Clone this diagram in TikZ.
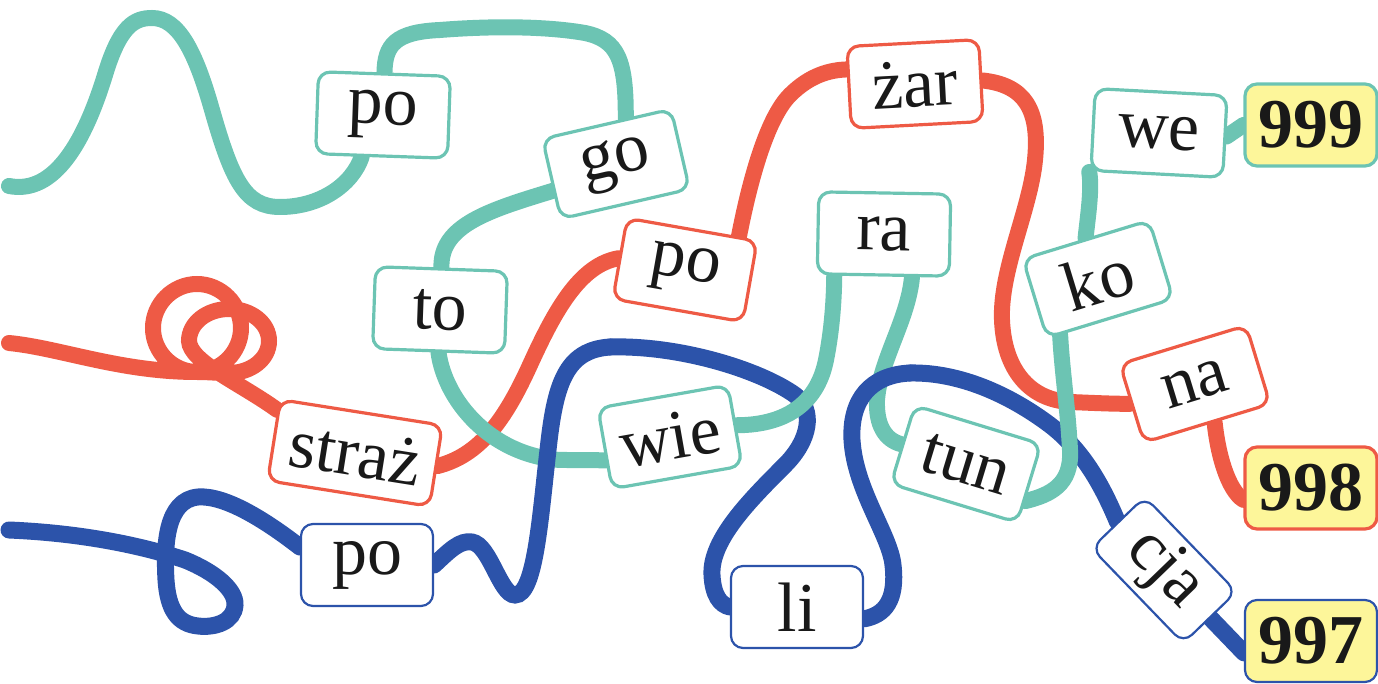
\documentclass[tikz,border=0pt]{standalone}
\usepackage{fontspec}
\setmainfont{Liberation Serif}
\usetikzlibrary{backgrounds}
\definecolor{cteal}{HTML}{6CC4B3}
\definecolor{cred}{HTML}{EE5A45}
\definecolor{cblue}{HTML}{2C53AA}
\definecolor{cyellow}{HTML}{FDF69A}

\begin{document}
\begin{tikzpicture}[
  x=0.5pt, y=-0.5pt,
  box/.style={line width=1.6pt, rounded corners=6pt, align=center, inner sep=0pt,
              minimum width=66pt, minimum height=41pt, fill=white, text=black!90,
              font=\fontsize{35}{40}\selectfont},
  tbox/.style={box, draw=cteal},
  rbox/.style={box, draw=cred},
  bbox/.style={box, draw=cblue, line width=1.1pt},
  num/.style={fill=cyellow, font=\fontsize{35}{40}\selectfont\bfseries},
  wire/.style={line width=8pt, line cap=round},
  twire/.style={wire, color=cteal},
  rwire/.style={wire, color=cred},
  bwire/.style={wire, color=cblue, line width=8.5pt}
]
\useasboundingbox (0,0) rectangle (1378,684);

\node[tbox, rotate=-2] (po1) at (383,115) {po};
\node[tbox, rotate=13] (go) at (616,164) {go};
\node[tbox, rotate=-2] (tto) at (440,310) {to};
\node[tbox, rotate=10] (wie) at (670,437) {wie};
\node[tbox, rotate=-1] (ra) at (884,234) {ra};
\node[tbox, rotate=-17] (tun) at (966,464) {tun};
\node[tbox, rotate=17] (ko) at (1098,279) {ko};
\node[tbox, rotate=-3] (we) at (1159,133) {we};
\node[tbox, num] (n999) at (1311,125) {999};

\node[rbox, rotate=-9, minimum width=82pt] (straz) at (355,453) {straż};
\node[rbox, rotate=-10] (po2) at (685,270) {po};
\node[rbox, rotate=3] (zar) at (915,84) {żar};
\node[rbox, rotate=17] (na) at (1195,384) {na};
\node[rbox, num] (n998) at (1311,488) {998};

\node[bbox] (po3) at (367,565) {po};
\node[bbox] (li) at (797,607) {li};
\node[bbox, rotate=-46, minimum height=37pt] (cja) at (1164,570) {cja};
\node[bbox, num] (n997) at (1311,641) {997};

\begin{scope}[on background layer]
\coordinate (tl) at (9,186);
\coordinate (rl) at (9,343);
\coordinate (bl) at (9,530);
\coordinate (bk) at (610,347);
\coordinate (bj) at (910,373);
% red
\draw[rwire] (rl) .. controls (60,348) and (120,372) .. (197,372)
  .. controls (221,372) and (241,352) .. (241,328)
  .. controls (241,304) and (221,284) .. (197,284)
  .. controls (173,284) and (153,304) .. (153,328)
  .. controls (153,352) and (173,372) .. (197,372)
  .. controls (210,372) and (215,373) .. (229,373)
  .. controls (251,373) and (269,359) .. (269,341)
  .. controls (269,323) and (251,309) .. (229,309)
  .. controls (207,309) and (189,323) .. (189,341)
  .. controls (190,362) and (240,383) .. (straz.160);
\draw[rwire] (straz.east) .. controls (480,455) and (505,420) .. (530,365)
  .. controls (555,310) and (580,265) .. (po2.west);
\draw[rwire] (po2.42) .. controls (748,190) and (765,120) .. (790,95)
  .. controls (810,75) and (830,70) .. (zar.165);
\draw[rwire] (zar.east) .. controls (1025,85) and (1040,110) .. (1035,160)
  .. controls (1030,210) and (1000,270) .. (1002,320)
  .. controls (1004,370) and (1030,400) .. (1070,402)
  .. controls (1095,403) and (1115,404) .. (na.west);
\draw[rwire] (na.280) .. controls (1218,455) and (1228,490) .. (n998.190);
% blue
\draw[bwire] (bl) .. controls (80,533) and (140,545) .. (185,560)
  .. controls (215,572) and (236,590) .. (235,605)
  .. controls (234,622) and (215,628) .. (198,626)
  .. controls (178,624) and (168,610) .. (166,580)
  .. controls (164,545) and (166,500) .. (198,497)
  .. controls (225,495) and (265,520) .. (po3.165);
\draw[bwire] (bk) .. controls (680,345) and (760,370) .. (795,395)
  .. controls (815,410) and (810,440) .. (785,465)
  .. controls (750,500) and (710,540) .. (712,575)
  .. controls (713,595) and (720,605) .. (li.west);
\draw[bwire] (bj) .. controls (960,372) and (1010,395) .. (1050,425)
  .. controls (1080,448) and (1100,480) .. (cja.west);
\draw[bwire] (cja.east) -- (n997.190);
% teal
\draw[twire] (tl) .. controls (55,195) and (85,140) .. (105,75)
  .. controls (120,25) and (135,18) .. (152,18)
  .. controls (178,18) and (195,50) .. (212,110)
  .. controls (232,180) and (245,207) .. (280,207)
  .. controls (320,207) and (352,185) .. (po1.245);
\draw[twire] (po1.north) .. controls (385,45) and (395,32) .. (440,30)
  .. controls (490,26) and (545,26) .. (585,33)
  .. controls (618,40) and (626,60) .. (go.65);
\draw[twire] (go.190) .. controls (490,210) and (440,225) .. (tto.north);
\draw[twire] (tto.south) .. controls (445,400) and (490,455) .. (560,460)
  .. controls (580,460) and (595,460) .. (wie.190);
\draw[twire] (wie.east) .. controls (790,425) and (818,400) .. (826,360)
  .. controls (832,330) and (834,300) .. (ra.221);
\draw[twire] (ra.304) .. controls (908,320) and (880,360) .. (877,400)
  .. controls (876,425) and (885,440) .. (tun.west);
\draw[twire] (tun.345) .. controls (1050,495) and (1072,485) .. (1070,450)
  .. controls (1068,410) and (1062,370) .. (ko.219);
\draw[twire] (ko.north) .. controls (1088,215) and (1092,190) .. (we.south west);
\draw[twire] (we.east) -- (n999.west);
% blue over teal
\draw[bwire] (po3.east) .. controls (450,550) and (460,540) .. (472,542)
  .. controls (490,545) and (500,595) .. (515,595)
  .. controls (535,595) and (540,520) .. (548,450)
  .. controls (555,385) and (565,350) .. (bk);
\draw[bwire] (li.350) .. controls (885,615) and (897,600) .. (893,565)
  .. controls (890,535) and (855,490) .. (852,440)
  .. controls (850,400) and (870,375) .. (bj);
\end{scope}
\end{tikzpicture}
\end{document}
